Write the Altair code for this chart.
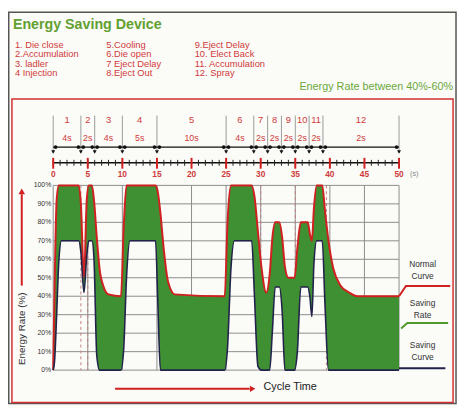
import altair as alt
import pandas as pd

# ---------------- data ----------------
t = [0, 0.2, 0.5, 0.8, 1.2, 3.7, 4.0, 4.45, 4.85, 5.15, 5.6, 5.9, 6.3, 6.7, 7.3,
     8.0, 9.8, 10.2, 10.6, 11.1, 14.8, 15.1, 15.5, 16.0, 16.6, 17.6, 24.8, 25.2, 25.7, 26.2,
     28.7, 29.1, 29.6, 30.1, 30.8, 31.3, 31.7, 32.1, 32.7, 33.1, 33.5, 34.0, 34.9, 35.3, 35.8,
     36.8, 37.1, 37.4, 37.7, 38.1, 38.9, 39.3, 39.8, 40.5, 41.5, 42.8, 44.0, 50.0]
normal = [0, 45, 92, 100, 100, 100, 90, 50, 92, 100, 100, 92, 72, 55, 45,
          41, 40, 78, 100, 100, 100, 97, 85, 65, 48, 41, 40, 80, 100, 100,
          100, 94, 75, 56, 42, 52, 72, 80, 80, 72, 56, 50, 50, 66, 80,
          80, 74, 70, 88, 100, 100, 86, 70, 55, 46, 42, 40, 40]
saving = [0, 5, 30, 58, 70, 70, 64, 42, 62, 70, 70, 60, 8, 0, 0,
          0, 0, 12, 50, 70, 70, 40, 0, 0, 0, 0, 0, 12, 55, 70,
          70, 40, 2, 0, 0, 0, 22, 45, 45, 32, 0, 0, 0, 10, 45,
          45, 40, 29, 58, 70, 70, 35, 0, 0, 0, 0, 0, 0]

phase_edges = [0, 4, 6, 10, 15, 25, 29, 31, 33, 35, 37, 39, 50]
phase_no = ["1", "2", "3", "4", "5", "6", "7", "8", "9", "10", "11", "12"]
phase_dur = ["4s", "2s", "4s", "5s", "10s", "4s", "2s", "2s", "2s", "2s", "2s", "2s"]
tick_major = [0, 5, 10, 15, 20, 25, 30, 35, 40, 45, 50]
tick_minor = list(range(0, 51))
y_ticks = [0, 10, 20, 30, 40, 50, 60, 70, 80, 90, 100]
y_labels = ["0%", "10%", "20%", "30%", "40%", "50%", "60%", "70%", "80%", "90%", "100%"]
dash_marks = [4, 5, 30, 35, 39.5]

title_text = "Energy Saving Device"
list_col1 = ["1. Die close", "2.Accumulation", "3. ladler", "4 Injection"]
list_col2 = ["5.Cooling", "6.Die open", "7 Eject Delay", "8.Eject Out"]
list_col3 = ["9.Eject Delay", "10. Elect Back", "11. Accumulation", "12. Spray"]
rate_note = "Energy Rate between 40%-60%"
legend_names = [["Normal", "Curve"], ["Saving", "Rate"], ["Saving", "Curve"]]

normal_leg_t = [50, 51, 57.4]
normal_leg_v = [40, 45.5, 45.5]
rate_leg_t = [50.3, 51.2, 57.1]
rate_leg_v = [22.5, 25.5, 25.5]
curve_leg_t = [50, 56.7]
curve_leg_v = [1, 1]

# ---------------- style ----------------
GREEN = "#3f8f33"
RED = "#d02020"
NAVY = "#22224a"
GRID = "#8c8c8c"
TRED = "#cf3a3a"
TGREEN = "#62a030"
FONT = "Liberation Sans"

xs = alt.Scale(domain=[0, 50], nice=False)
ys = alt.Scale(domain=[0, 100], nice=False)
NOAX = None


def X(f):
    return alt.X(f, scale=xs, axis=NOAX)


def Y(f):
    return alt.Y(f, scale=ys, axis=NOAX)


curve_df = pd.DataFrame({"t": t, "normal": normal, "saving": saving})

# grid (drawn as marks)
hgrid = alt.Chart(pd.DataFrame({"v": y_ticks})).mark_rule(color=GRID, strokeWidth=1).encode(y=Y("v:Q"))
vgrid = alt.Chart(pd.DataFrame({"t": tick_major})).mark_rule(color=GRID, strokeWidth=1).encode(x=X("t:Q"))
ylabs = alt.Chart(pd.DataFrame({"v": y_ticks, "lab": y_labels})).mark_text(
    align="right", baseline="middle", fontSize=7, color="#333", font=FONT).encode(
    x=alt.value(-2), y=Y("v:Q"), text="lab:N")

area = alt.Chart(curve_df).mark_area(color=GREEN, interpolate="monotone", opacity=1).encode(
    x=X("t:Q"), y=Y("saving:Q"), y2="normal:Q")

dash = alt.Chart(pd.DataFrame({"t": dash_marks})).mark_rule(
    strokeDash=[3, 3], color="#c08080", strokeWidth=1).encode(x=X("t:Q"))

red_line = alt.Chart(curve_df).mark_line(color=RED, strokeWidth=2, interpolate="monotone").encode(
    x=X("t:Q"), y=Y("normal:Q"))
navy_line = alt.Chart(curve_df).mark_line(color=NAVY, strokeWidth=1.6, interpolate="monotone").encode(
    x=X("t:Q"), y=Y("saving:Q"))


def leg_line(tt, vv, color, w):
    return alt.Chart(pd.DataFrame({"t": tt, "v": vv})).mark_line(color=color, strokeWidth=w).encode(
        x=X("t:Q"), y=Y("v:Q"))


leg_red = leg_line(normal_leg_t, normal_leg_v, RED, 2)
leg_green = leg_line(rate_leg_t, rate_leg_v, "#4f9a2a", 2)
leg_navy = leg_line(curve_leg_t, curve_leg_v, NAVY, 2)

# ---------------- top timeline ----------------
edges_df = pd.DataFrame({"t": phase_edges})
centers = [(phase_edges[i] + phase_edges[i + 1]) / 2 for i in range(len(phase_no))]
phase_df = pd.DataFrame({"t": centers, "no": phase_no, "dur": phase_dur})

bound_rules = alt.Chart(edges_df).mark_rule(color="#9a9a9a", strokeWidth=1).encode(
    x=X("t:Q"), y=alt.value(-71), y2=alt.value(-33))
arrow_line = alt.Chart(pd.DataFrame({"t0": [phase_edges[0]], "t1": [phase_edges[-1]]})).mark_rule(
    color="#111", strokeWidth=1.2).encode(x=X("t0:Q"), x2="t1:Q", y=alt.value(-39))
dot_t = []
for i, e in enumerate(phase_edges):
    if i > 0:
        dot_t.append(e - 0.35)
    if i < len(phase_edges) - 1:
        dot_t.append(e + 0.35)
dots = alt.Chart(pd.DataFrame({"t": dot_t})).mark_point(
    filled=True, color="#111", size=14, opacity=1).encode(x=X("t:Q"), y=alt.value(-39))
tris = alt.Chart(edges_df).mark_point(
    shape="triangle-down", filled=True, color="#111", size=16, opacity=1).encode(
    x=X("t:Q"), y=alt.value(-34))
ph_no = alt.Chart(phase_df).mark_text(color=TRED, fontSize=9.5, font=FONT).encode(
    x=X("t:Q"), y=alt.value(-67), text="no:N")
ph_dur = alt.Chart(phase_df).mark_text(color=TRED, fontSize=9, font=FONT).encode(
    x=X("t:Q"), y=alt.value(-48), text="dur:N")

tick_axis = alt.Chart(pd.DataFrame({"t0": [0], "t1": [50]})).mark_rule(color="#111", strokeWidth=1.5).encode(
    x=X("t0:Q"), x2="t1:Q", y=alt.value(-23))
minor = alt.Chart(pd.DataFrame({"t": tick_minor})).mark_rule(color="#222", strokeWidth=1).encode(
    x=X("t:Q"), y=alt.value(-26), y2=alt.value(-20))
major = alt.Chart(pd.DataFrame({"t": tick_major})).mark_rule(color=RED, strokeWidth=2).encode(
    x=X("t:Q"), y=alt.value(-28), y2=alt.value(-17))
tick_lab = alt.Chart(pd.DataFrame({"t": tick_major, "lab": [str(v) for v in tick_major]})).mark_text(
    color=TRED, fontSize=8.5, fontWeight="bold", font=FONT).encode(
    x=X("t:Q"), y=alt.value(-12), text="lab:N")
unit_lab = alt.Chart(pd.DataFrame({"t": [52.2], "lab": ["(s)"]})).mark_text(
    color="#888", fontSize=7.5, font=FONT).encode(
    x=X("t:Q"), y=alt.value(-12), text="lab:N")

# ---------------- text decorations (pixel positions, plot origin) ----------------
rows_y = [-143, -133.5, -124, -114.5]
txt_rows = []
for col_x, col in [(-39, list_col1), (54, list_col2), (144, list_col3)]:
    for yy, s in zip(rows_y, col):
        txt_rows.append({"px": col_x, "py": yy, "text": s, "fs": 9.5, "col": TRED})
txt_rows.append({"px": 214, "py": 205, "text": "Cycle Time", "fs": 11, "col": "#222"})
left_txt = alt.Chart(pd.DataFrame(txt_rows)).mark_text(align="left", baseline="middle", font=FONT).encode(
    x=alt.X("px:Q", scale=None, axis=None), y=alt.Y("py:Q", scale=None, axis=None),
    text="text:N", size=alt.Size("fs:Q", scale=None), color=alt.Color("col:N", scale=None))

title = alt.Chart(pd.DataFrame({"px": [-41], "py": [-163], "text": [title_text]})).mark_text(
    align="left", baseline="middle", font=FONT, fontSize=14.5, fontWeight="bold", color=TGREEN).encode(
    x=alt.X("px:Q", scale=None, axis=None), y=alt.Y("py:Q", scale=None, axis=None), text="text:N")

note = alt.Chart(pd.DataFrame({"px": [407], "py": [-100], "text": [rate_note]})).mark_text(
    align="right", baseline="middle", font=FONT, fontSize=11, color="#6aa83a").encode(
    x=alt.X("px:Q", scale=None, axis=None), y=alt.Y("py:Q", scale=None, axis=None), text="text:N")

leg_rows = []
for (a, b), yy in zip(legend_names, [80, 120, 163]):
    leg_rows.append({"px": 376, "py": yy, "text": a})
    leg_rows.append({"px": 376, "py": yy + 12, "text": b})
leg_txt = alt.Chart(pd.DataFrame(leg_rows)).mark_text(
    align="center", baseline="middle", font=FONT, fontSize=8.5, color="#333").encode(
    x=alt.X("px:Q", scale=None, axis=None), y=alt.Y("py:Q", scale=None, axis=None), text="text:N")

ylab = alt.Chart(pd.DataFrame({"px": [-32], "py": [146], "text": ["Energy Rate (%)"]})).mark_text(
    angle=270, align="center", baseline="middle", font=FONT, fontSize=10, color="#333").encode(
    x=alt.X("px:Q", scale=None, axis=None), y=alt.Y("py:Q", scale=None, axis=None), text="text:N")

one = pd.DataFrame({"a": [0]})
y_arrow = alt.Chart(one).mark_rule(color=RED, strokeWidth=2).encode(
    x=alt.value(-32), y=alt.value(102), y2=alt.value(9))
y_head = alt.Chart(one).mark_point(shape="triangle-up", filled=True, color=RED, size=45, opacity=1).encode(
    x=alt.value(-32), y=alt.value(6))
x_arrow = alt.Chart(one).mark_rule(color=RED, strokeWidth=2).encode(
    x=alt.value(63), x2=alt.value(200), y=alt.value(207))
x_head = alt.Chart(one).mark_point(shape="triangle-right", filled=True, color=RED, size=40, opacity=1).encode(
    x=alt.value(203), y=alt.value(207))

outer = alt.Chart(one).mark_rect(fillOpacity=0, stroke="#555", strokeWidth=1.5).encode(
    x=alt.value(-45.25), x2=alt.value(410), y=alt.value(-176.25), y2=alt.value(222))
red_box = alt.Chart(one).mark_rect(fillOpacity=0, stroke="#d03030", strokeWidth=1.5).encode(
    x=alt.value(-42), x2=alt.value(407), y=alt.value(-88), y2=alt.value(221))

chart = alt.layer(
    hgrid, vgrid, ylabs, dash, area, red_line, navy_line, leg_red, leg_green, leg_navy,
    bound_rules, arrow_line, dots, tris, ph_no, ph_dur,
    tick_axis, minor, major, tick_lab, unit_lab,
    left_txt, title, note, leg_txt, ylab, y_arrow, y_head, x_arrow, x_head,
    outer, red_box,
).properties(
    width=352, height=188,
    autosize=alt.AutoSizeParams(type="none"),
    padding={"left": 46, "top": 177, "right": 59, "bottom": 35},
    background="#fbfbf8",
).configure_view(stroke=None)

chart.save("out.html", embed_options={"renderer": "svg", "actions": False})
